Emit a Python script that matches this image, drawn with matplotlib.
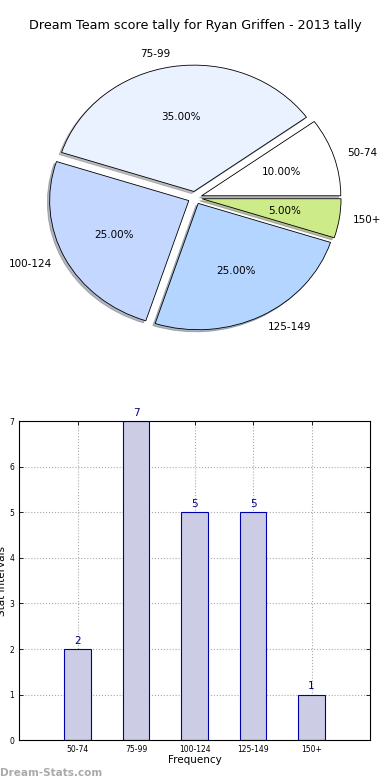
import matplotlib
matplotlib.use("Agg")
import matplotlib.pyplot as plt
import numpy as np

# data
labels = ['50-74', '75-99', '100-124', '125-149', '150+']
counts = [2, 7, 5, 5, 1]
pie_colors = ['#FFFFFF', '#EAF1FF', '#C4D8FF', '#B3D5FF', '#CEEB8A']

plt.rcParams['font.family'] = 'DejaVu Sans'

fig = plt.figure(figsize=(3.9, 7.8), dpi=100)

# pie (top)
ax1 = fig.add_axes([0.054, 0.544, 0.892, 0.405])
explode = [0.05] * len(counts)
wedges, texts, autotexts = ax1.pie(counts, labels=labels, colors=pie_colors,
                                   explode=explode, autopct='%1.2f%%',
                                   shadow={'ox': -0.012, 'oy': -0.012, 'shade': 0.5},
                                   startangle=0, textprops={'fontsize': 7.5},
                                   wedgeprops={'edgecolor': 'black', 'linewidth': 0.6})
ax1.set_aspect('auto')
ax1.set_xlim(-1.25, 1.25)
ax1.set_ylim(-1.25, 1.25)
ax1.set_title('Dream Team score tally for Ryan Griffen - 2013 tally', fontsize=9.2, pad=8)

# bar (bottom)
ax2 = fig.add_axes([0.049, 0.051, 0.9, 0.409])
x = np.arange(len(labels))
bars = ax2.bar(x, counts, width=0.45, color='#CCCCE5', edgecolor='#0000AA', linewidth=0.8, zorder=2)
for xi, c in zip(x, counts):
    ax2.text(xi, c + 0.07, str(c), ha='center', va='bottom', color='#000080', fontsize=7.5)
ax2.set_xlim(-1, 5)
ax2.set_ylim(0, 7)
ax2.set_xticks(x)
ax2.set_xticklabels(labels, fontsize=5.5)
ax2.set_yticks(range(0, 8))
ax2.tick_params(axis='y', labelsize=5.5)
ax2.tick_params(direction='in', top=True, right=True, length=3, width=0.6)
ax2.grid(True, linestyle=':', color='#AAAAAA', linewidth=0.8, zorder=0)
ax2.set_axisbelow(True)
ax2.set_xlabel('Frequency', fontsize=7.5, labelpad=1)
ax2.set_ylabel('Stat Intervals', fontsize=7.5, labelpad=2)

fig.text(0.0, 0.003, 'Dream-Stats.com', fontsize=7.5, color='#AAAAAA', fontweight='bold', ha='left', va='bottom')

fig.savefig('out.png', dpi=100)
